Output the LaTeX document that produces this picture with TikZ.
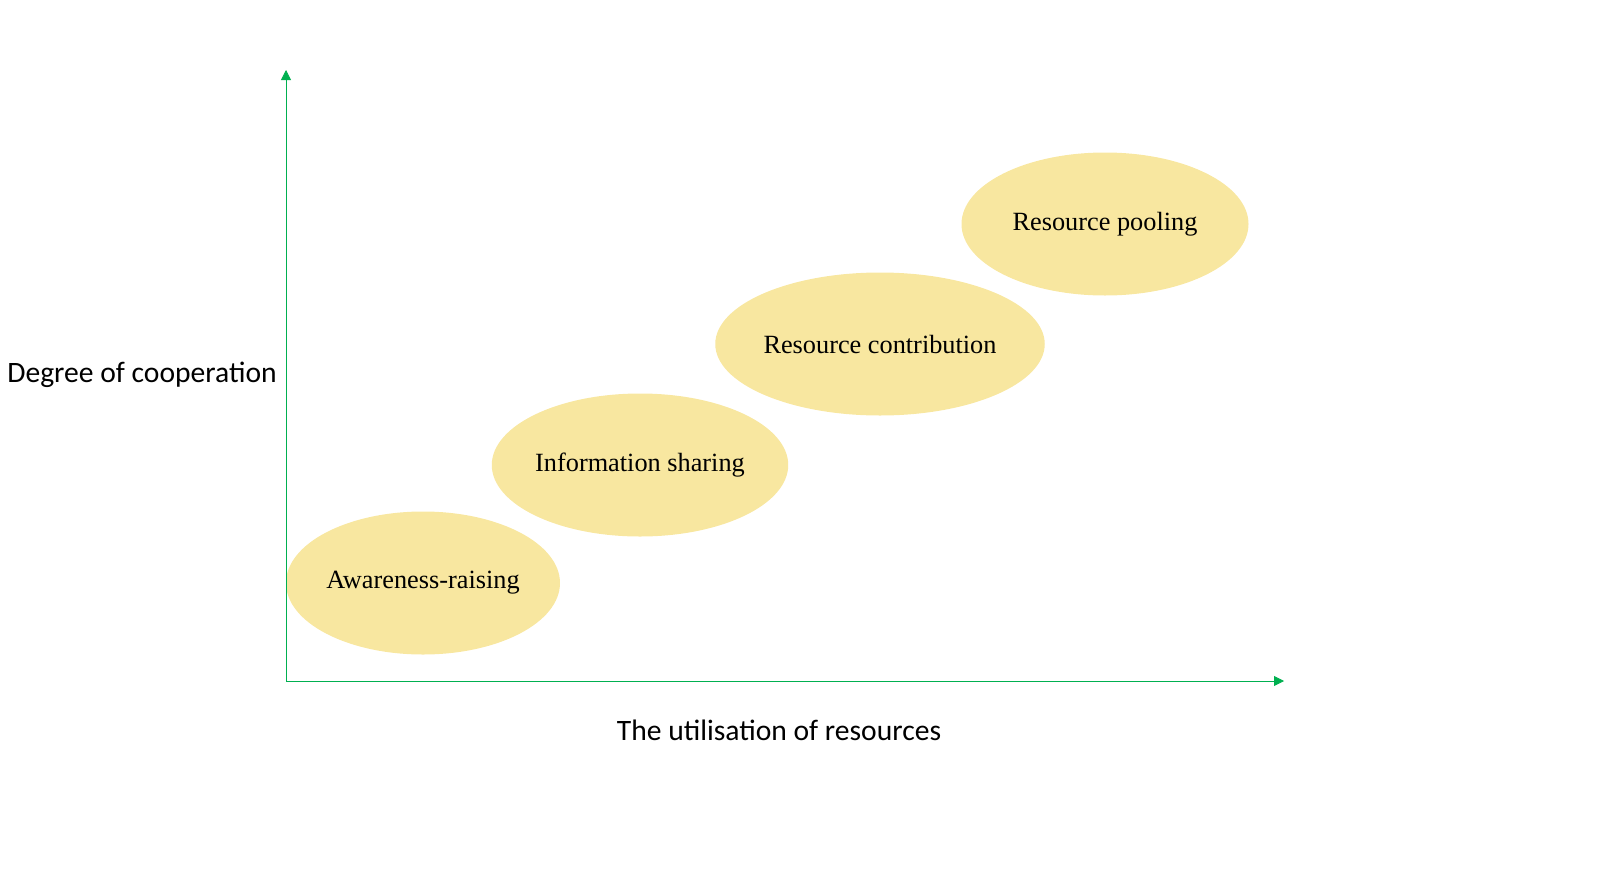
\documentclass[tikz,border=0pt]{standalone}
\usepackage{fontspec}
\setmainfont{Liberation Serif}
\newfontfamily\labelfont{Carlito}
\usetikzlibrary{shapes.geometric,arrows.meta}
\definecolor{axisgreen}{HTML}{00B050}
\definecolor{stagefill}{HTML}{F8E7A0}
\tikzset{
  stage/.style={ellipse, fill=stagefill, draw=none, inner sep=0pt,
    minimum width=287pt, minimum height=143pt,
    font=\fontsize{26.3}{30}\selectfont},
  axis/.style={draw=axisgreen, line width=0.8pt, -{Triangle[width=10pt,length=10pt]}},
  axislabel/.style={font=\labelfont\fontsize{29.6}{34}\selectfont, inner sep=0pt}
}
\begin{document}
\begin{tikzpicture}[x=1pt,y=-1pt]
\useasboundingbox (0,0) rectangle (1600,894);
\coordinate (origin) at (286,681);
\coordinate (ytop) at (286,70);
\coordinate (xend) at (1284,681);
\node[stage, minimum width=274pt] (aware) at (423,583) {Awareness-raising};
\node[stage] (info) at (640,465) {Information sharing};
\node[stage] (contrib) at (880,344) {Resource contribution};
\node[stage] (pool) at (1105,224) {Resource pooling};
\draw[axis] (origin) -- (ytop);
\draw[axis] (origin) -- (xend);
\node[axislabel] (ylab) at (142,375) {Degree of cooperation};
\node[axislabel] (xlab) at (779,730) {The utilisation of resources};
\end{tikzpicture}
\end{document}
